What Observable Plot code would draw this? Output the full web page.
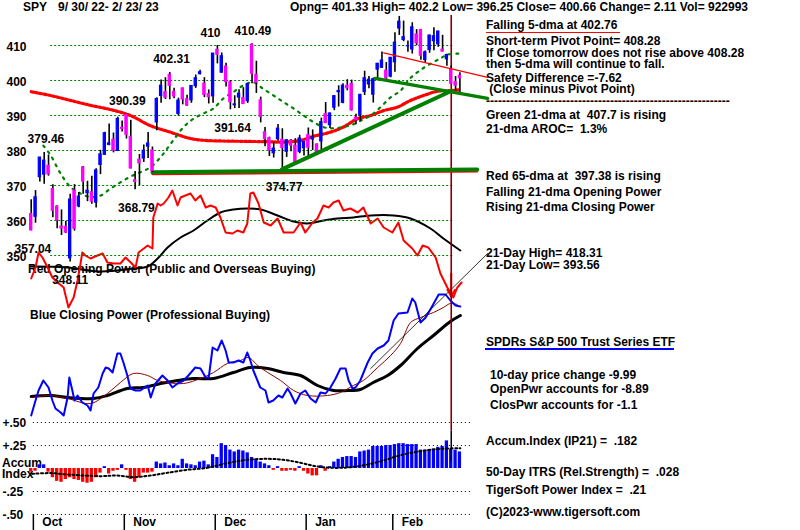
<!DOCTYPE html>
<html><head><meta charset="utf-8">
<script src="https://cdn.jsdelivr.net/npm/d3@7"></script>
<script src="https://cdn.jsdelivr.net/npm/@observablehq/plot@0.6"></script>
<style>
body{margin:0;background:#fff}
#chart{position:relative;width:800px;height:530px;background:#fff;overflow:hidden;font-family:"Liberation Sans",Arial,sans-serif;font-weight:bold;font-size:12px;color:#000}
#chart svg{position:absolute;left:0;top:0;background:transparent}
.t{position:absolute;white-space:pre;line-height:12px}
.u{position:absolute}
</style></head><body><div id="chart"></div><script>
// ---------- DATA ----------
const days = ["9/30","10/3","10/4","10/5","10/6","10/7","10/10","10/11","10/12","10/13","10/14","10/17","10/18","10/19","10/20","10/21","10/24","10/25","10/26","10/27","10/28","10/31","11/1","11/2","11/3","11/4","11/7","11/8","11/9","11/10","11/11","11/14","11/15","11/16","11/17","11/18","11/21","11/22","11/23","11/25","11/28","11/29","11/30","12/1","12/2","12/5","12/6","12/7","12/8","12/9","12/12","12/13","12/14","12/15","12/16","12/19","12/20","12/21","12/22","12/23","12/27","12/28","12/29","12/30","1/3","1/4","1/5","1/6","1/9","1/10","1/11","1/12","1/13","1/17","1/18","1/19","1/20","1/23","1/24","1/25","1/26","1/27","1/30","1/31","2/1","2/2","2/3","2/6","2/7","2/8","2/9","2/10","2/13","2/14","2/15","2/16","2/17","2/21","2/22","2/23"];
const open  = [361.80,361.08,372.40,373.12,375.62,368.97,363.96,358.24,358.17,349.21,368.55,364.01,375.13,367.82,368.03,365.12,375.89,378.79,381.62,383.07,379.87,386.44,390.14,383.90,371.47,377.37,377.71,381.11,380.00,388.05,395.59,396.66,401.65,396.78,390.46,397.74,394.64,394.35,398.39,401.83,399.09,396.05,395.49,408.77,402.25,403.95,399.42,392.94,395.14,394.94,394.11,410.22,401.61,394.30,385.18,383.47,379.23,383.25,383.05,379.65,382.79,381.33,379.63,380.64,384.37,383.18,381.72,382.61,390.37,387.25,392.23,396.67,393.62,398.48,399.01,389.36,390.10,396.72,398.88,395.95,403.13,403.66,402.80,401.13,405.21,414.86,411.59,409.79,408.87,413.13,414.41,405.86,408.72,411.24,410.35,408.79,406.06,403.06,399.52,401.33];
const high  = [365.91,368.55,378.00,379.46,378.72,370.22,364.21,363.03,359.82,367.51,370.26,367.98,375.45,371.21,372.67,374.80,380.06,385.25,387.58,385.00,389.52,388.40,390.39,388.63,374.02,378.87,381.57,385.12,381.00,395.04,400.13,400.80,402.31,397.78,394.95,397.81,395.82,398.57,401.56,402.91,400.81,397.30,407.68,410.00,407.86,404.93,399.99,395.64,397.36,397.94,398.99,410.49,405.50,395.25,386.58,383.82,382.23,387.41,386.21,383.06,383.15,383.39,384.35,382.58,386.43,385.88,381.84,389.25,393.70,390.65,395.60,398.49,399.10,400.23,400.12,390.36,396.04,402.65,401.15,400.70,404.92,408.16,405.13,406.53,413.67,418.31,416.97,411.29,416.49,414.53,414.57,408.44,412.97,415.05,414.06,412.91,407.51,404.16,401.13,402.20];
const low   = [357.04,359.21,371.00,370.36,372.68,360.76,357.67,355.71,356.30,348.11,356.96,363.61,367.52,365.38,364.61,363.54,373.11,378.67,381.35,379.33,379.68,385.26,383.29,374.76,368.79,370.00,376.59,377.72,373.72,385.64,393.48,394.57,394.49,394.79,389.85,393.04,392.66,393.48,397.75,401.54,395.11,393.30,393.48,404.75,402.14,398.17,391.64,391.97,392.01,393.26,393.46,399.07,396.31,387.89,381.04,378.28,377.85,382.66,374.77,378.03,379.65,376.42,379.08,378.43,377.83,380.00,378.76,379.41,387.67,386.27,391.38,392.42,393.34,397.06,391.28,387.39,388.38,395.72,397.64,393.56,400.03,403.44,400.28,400.77,402.35,412.88,411.09,408.10,407.57,409.93,405.81,405.01,407.78,408.51,409.47,408.14,404.05,398.82,397.02,396.25];
const close = [357.18,366.61,377.97,377.09,373.20,362.79,360.02,357.74,356.56,365.97,357.63,366.82,371.13,368.50,365.41,374.29,378.87,384.92,382.02,379.98,389.02,386.21,384.52,374.87,371.01,376.35,379.95,382.00,374.13,394.69,398.51,395.12,398.49,395.45,394.24,394.59,392.83,398.42,400.63,402.33,395.91,395.23,407.68,407.38,406.91,399.59,393.83,393.16,396.24,393.28,398.95,401.97,399.40,389.63,383.27,380.02,380.54,386.23,380.72,382.91,381.40,376.66,383.44,382.43,380.82,383.76,379.38,388.08,387.86,390.58,395.52,396.96,398.50,397.77,391.49,388.64,395.88,400.63,400.20,400.35,404.75,405.68,400.59,406.48,410.80,416.78,412.35,409.83,415.19,410.65,407.09,408.04,412.83,412.64,413.98,408.28,407.26,399.09,398.54,400.66];

// moving averages: [day index, value]
const ma65 = [[0,396.8],[4.5,395.7],[9.1,394.3],[13.7,392.9],[18.3,391.7],[22.9,390.0],[27.5,387.1],[32.2,385.2],[36.5,383.5],[40,382.9],[45,382.7],[50,382.6],[55,382.5],[58,382.4],[62,382.8],[65,384.0],[69,385.2],[72.1,386.7],[75.4,389.1],[78.4,390.0],[81.4,391.4],[84.6,392.4],[87.6,394.3],[90.6,395.7],[93.8,396.9],[96.8,397.1],[99,397.38]];
const ma21 = [[2.8,381.4],[4.5,378.6],[6.8,373.4],[9.1,369.5],[11.4,367.7],[13.7,366.7],[16,367.1],[18.3,369.1],[20.6,370.9],[23,372.6],[25.2,373.8],[27.5,375.2],[29.9,378.1],[32.2,381.9],[35.2,386.7],[37.5,389.1],[39.8,390.6],[42.1,392.0],[44.4,394.9],[46.7,396.7],[49,398.6],[51.3,399.5],[53.6,397.6],[56,395.7],[58.3,393.8],[60.6,392.0],[62.9,390.0],[65.2,388.1],[68,386.5],[71,386.5],[74,387.3],[76.5,388.8],[78.4,390.0],[80.7,392.4],[83,395.2],[85.3,397.1],[87.5,400.6],[89.8,402.9],[92.2,404.8],[94.5,406.3],[96.1,407.4],[99,407.7]];

// drawn trend lines: [day index, price]
const supportLine = [[28,373.8],[103,374.6]];
const supportRed  = [[28,373.2],[103,374.0]];
const risingTrend = [[57.9,374.6],[97,397.0]];
const fallingTrend = [[79.5,400.6],[105.4,394.9]];
const resistanceLine = [[81.4,407.9],[105.4,400.9]];
const markerDay = 97;

// labelled extremes
const highLabels = [{d:3,v:379.46,t:"379.46",s:0.4},{d:22,v:390.39,t:"390.39",s:0.2},{d:32,v:402.31,t:"402.31",s:0.4},{d:43,v:410.0,t:"410",s:-1.6},{d:51,v:410.49,t:"410.49",s:0.2}];
const lowLabels = [{d:0,v:357.04,t:"357.04",s:0.4},{d:9,v:348.11,t:"348.11",s:0},{d:24,v:368.79,t:"368.79",s:0.3},{d:46,v:391.64,t:"391.64",s:0.5},{d:58,v:374.77,t:"374.77",s:0.4}];

// power lines (arbitrary units): [day index, value]
const openingPower = [[0,152],[1,163],[1.7,178],[2.6,173],[3.8,163],[4.9,153],[6.1,148],[7.5,143],[8.6,123],[9.8,133],[10.7,150],[11.4,167],[11.8,178],[12.5,175],[13.7,172],[15.3,175],[16.5,177],[17.6,168],[19,167],[20.6,167],[21.8,173],[23,168],[24.1,163],[24.8,178],[26.9,185],[28,182],[28.2,213],[29.2,227],[29.9,225],[30.6,227],[31.7,233],[32.6,240],[33.8,225],[34.5,233],[35.6,235],[36.8,237],[37.9,230],[39.1,235],[40.3,223],[41.4,225],[42.6,223],[43.7,213],[44.9,198],[46.5,197],[47.6,200],[49,198],[49.9,207],[50.6,237],[51.3,238],[52.5,227],[53.7,208],[55.3,205],[56.9,212],[58.3,198],[60.6,198],[62.2,208],[63.3,198],[65,208],[66.1,212],[67.5,225],[68.7,223],[69.8,228],[71,230],[72.1,220],[73.7,222],[75.4,218],[76.7,223],[78.4,207],[80,212],[81.4,203],[83.4,198],[84.8,208],[86,190],[88,182],[89.2,175],[90.4,185],[91.7,183],[93.4,173],[94.5,157],[96.1,143],[97.5,133],[98.4,143],[99.4,148]];
const openingPowerMA = [[0,164],[8.4,163],[16,159],[23.6,162],[26.9,164],[29.2,172],[31.5,183],[34.5,193],[37.5,200],[40.7,210],[43.7,218],[46.7,221],[50,222],[53,221],[56.9,215],[60.6,209],[63.8,207],[67.5,210],[70.7,212],[74.4,213],[78.4,215],[83.7,215],[87.6,212],[92.2,202],[95.2,192],[99.1,180]];
const closingPower = [[0,15],[1,30],[1.7,40],[2.8,50],[4,43],[4.9,30],[5.6,22],[6.8,18],[7.5,15],[8.4,33],[8.8,53],[9.5,40],[10,30],[10.7,35],[11.8,28],[13,25],[13.7,20],[14.4,37],[15.5,43],[16.5,57],[17.2,63],[17.9,62],[18.8,58],[19.9,77],[20.6,77],[21.3,68],[22.2,55],[22.9,42],[24.1,40],[25.2,40],[26.9,45],[27.6,33],[28.7,47],[30.3,55],[31.5,50],[32.6,43],[33.8,47],[35.2,50],[36.3,55],[37.9,63],[39.1,62],[40.3,53],[41,53],[41.9,83],[43,80],[44,90],[44.9,80],[45.6,68],[46.7,68],[47.9,70],[49,68],[49.9,78],[50.6,70],[51.3,60],[52.9,43],[54.1,40],[54.8,28],[55.9,30],[57.1,35],[58,33],[59.2,42],[59.9,37],[61,27],[62.2,37],[63.3,40],[64.5,32],[65.7,28],[66.8,38],[68,37],[69.1,43],[70.3,52],[71.4,62],[72.6,62],[73.3,50],[74.2,42],[74.9,43],[76,50],[77.7,68],[78.8,77],[80,82],[81.4,85],[82.5,90],[83.7,110],[84.8,117],[86.9,118],[88,132],[88.7,128],[89.9,108],[91.1,113],[92.7,125],[94.1,136],[95.7,136],[96.8,130],[98,125],[99.1,124]];
const closingPowerMA = [[0,33],[4.5,35],[8.4,32],[13.7,27],[17.6,37],[20.6,48],[23.6,57],[26.9,55],[29.2,50],[31.5,48],[35.2,47],[39.1,52],[42.1,58],[45.3,67],[48.3,70],[50.2,73],[52.3,65],[54.6,58],[57.6,50],[60.6,40],[63.8,35],[68.4,35],[71.4,38],[74.4,45],[76.7,50],[80,63],[83,75],[85.3,87],[87.6,108],[89.9,113],[92.9,118],[95.2,123],[96.8,127],[98.4,126]];
const closingPowerLongMA = [[0,34],[4.5,35],[8.4,33],[14.4,32],[17.6,35],[22.2,42],[25.9,43],[29.9,47],[33.8,50],[37.5,52],[42.1,52],[46.7,58],[50.6,63],[54.6,62],[58.3,58],[62.2,55],[66.1,45],[69.8,40],[73,40],[76,41],[79,48],[82.3,55],[85.3,65],[89.2,82],[92.9,95],[96.8,109],[99.1,115]];
const pointerLine = [[78.4,62],[105.4,177]];
const powerArrow = [{d:97,from:157,to:134}];

// accumulation index (IP21) per day and its moving average
const accum = [-0.04,-0.03,0.04,0.04,-0.04,-0.10,-0.14,-0.15,-0.12,-0.10,-0.12,-0.13,-0.15,-0.16,-0.15,-0.10,-0.05,0.02,-0.06,-0.03,-0.02,0.04,-0.02,-0.12,-0.15,-0.10,-0.05,-0.05,-0.04,0.07,0.05,0.06,0.03,0.05,0.03,0.10,0.05,0.04,0.03,0.07,0.08,0.04,0.15,0.12,0.27,0.25,0.20,0.18,0.20,0.19,0.17,0.12,0.10,0.07,0.05,0.03,-0.02,0.02,-0.03,-0.03,-0.02,-0.03,0.02,-0.03,-0.06,-0.08,-0.08,0.03,-0.03,0.02,0.07,0.10,0.12,0.13,0.13,0.12,0.18,0.19,0.20,0.24,0.24,0.24,0.25,0.25,0.26,0.27,0.27,0.26,0.26,0.26,0.20,0.20,0.20,0.21,0.23,0.24,0.30,0.21,0.20,0.18];
const accumMA = [[0.2,-0.058],[4.5,-0.05],[8.3,-0.065],[16,-0.083],[19.8,-0.076],[23.6,-0.094],[27.6,-0.076],[31.4,-0.047],[36,-0.014],[40.6,0.007],[45.3,0.058],[49.9,0.094],[54.5,0.105],[58.3,0.094],[62.2,0.062],[66,0.022],[69.9,0.007],[73.7,0.014],[77.6,0.043],[81.4,0.087],[85,0.14],[89.9,0.188],[94.5,0.214],[99.1,0.22]];

const priceTicks = [410,400,390,380,370,360,350];
const accumTicks = [0.5,0.25,-0.25,-0.5];
const accumTickLabels = ["+.50","+.25","-.25","-.50"];
const months = ["Oct","Nov","Dec","Jan","Feb"];
const monthStart = [1,22,43,64,84];

// ---------- TEXT ----------
const header = [
  {x:23,y:11,t:"SPY"},
  {x:58,y:11,t:"9/ 30/ 22- 2/ 23/ 23"},
  {x:290,y:11,t:"Opng= 401.33 High= 402.2 Low= 396.25 Close= 400.66 Change= 2.11 Vol= 922993"}
];
const panel = [
  {x:486,y:29.3,t:"Falling 5-dma at 402.76"},
  {x:486,y:45,t:"Short-term Pivot Point= 408.28"},
  {x:486,y:56.7,t:"If Close tomorrow does not rise above 408.28"},
  {x:486,y:68.3,t:"then 5-dma will continue to fall."},
  {x:486,y:81.7,t:"Safety Difference =-7.62"},
  {x:486,y:93.3,t:" (Close minus Pivot Point)"},
  {x:486,y:105,t:"-------------------------------------------------------------"},
  {x:486,y:119,t:"Green 21-dma at  407.7 is rising"},
  {x:486,y:133,t:"21-dma AROC=  1.3%"},
  {x:486,y:180,t:"Red 65-dma at  397.38 is rising"},
  {x:486,y:196,t:"Falling 21-dma Opening Power"},
  {x:486,y:211,t:"Rising 21-dma Closing Power"},
  {x:486,y:257,t:"21-Day High= 418.31"},
  {x:486,y:269,t:"21-Day Low= 393.56"},
  {x:486,y:345.7,t:"SPDRs S&P 500 Trust Series ETF"},
  {x:490,y:379,t:"10-day price change -9.99"},
  {x:490,y:393.3,t:"OpenPwr accounts for -8.89"},
  {x:490,y:409.3,t:"ClosPwr accounts for -1.1"},
  {x:486,y:445,t:"Accum.Index (IP21) =  .182"},
  {x:486,y:475.7,t:"50-Day ITRS (Rel.Strength) =  .028"},
  {x:486,y:494,t:"TigerSoft Power Index =  .21"},
  {x:486,y:516,t:"(C)2023-www.tigersoft.com"},
  {x:28,y:273,t:"Red Opening Power (Public and Overseas Buying)"},
  {x:30,y:319,t:"Blue Closing Power (Professional Buying)"},
  {x:2,y:467,t:"Accum"},
  {x:2,y:478,t:"Index"}
];

// ---------- BUILD ----------
const chart = document.getElementById("chart");
for (const d of header.concat(panel)) {
  const s = document.createElement("span");
  s.className = "t"; s.textContent = d.t;
  s.style.left = d.x + "px"; s.style.top = (d.y - 10.2) + "px";
  chart.appendChild(s);
}
function underline(x1, x2, y, color, h) {
  const u = document.createElement("div");
  u.className = "u";
  Object.assign(u.style, {left: x1 + "px", top: y + "px", width: (x2 - x1) + "px", height: h + "px", background: color});
  chart.appendChild(u);
}
underline(486, 620, 31.5, "#ff0000", 1.5);
underline(485, 674, 347.5, "#0000ff", 2);

const font = {fontFamily: "Liberation Sans, Arial, sans-serif", fontWeight: "bold", fontSize: 12, fill: "black"};
const X = {type: "linear", domain: [0, 99], range: [30.7, 459.4], axis: null};
const base = {width: 800, height: 530, margin: 0, style: {background: "transparent", overflow: "visible"}, color: {type: "identity"}};
const P = () => ({x: d => d[0], y: d => d[1]});

const bars = days.map((day, i) => ({i, day, open: open[i], high: high[i], low: low[i], close: close[i]}));
const barColor = d => d.close > d.open ? "#0000ff" : "#ff00ff";

const pricePlot = Plot.plot({...base, x: X, y: {domain: [420, 340], range: [10, 290], axis: null}, marks: [
  Plot.ruleY(priceTicks, {x1: 4.5, x2: 97.5, stroke: "#008000", strokeWidth: 1, strokeDasharray: "2,2"}),
  Plot.text(priceTicks, {y: d => d, text: d => String(d), frameAnchor: "left", dx: 6, dy: 5.7, lineAnchor: "bottom", textAnchor: "start", ...font}),
  Plot.ruleX([markerDay], {x: d => d, y1: 418.6, y2: 300, stroke: "#800000", strokeWidth: 1.6}),
  // 65-dma drawn as a chain of small red marks
  Plot.line(ma65, {...P(), stroke: "#ff0000", strokeWidth: 3.2, strokeDasharray: "2.2,2.13", curve: "catmull-rom"}),
  Plot.line(ma21, {...P(), stroke: "#008000", strokeWidth: 2.2, strokeDasharray: "2,5.5", curve: "catmull-rom"}),
  Plot.line(supportRed, {...P(), stroke: "#ff0000", strokeWidth: 2}),
  Plot.line(supportLine, {...P(), stroke: "#008000", strokeWidth: 4}),
  Plot.ruleX(bars, {x: "i", y1: "low", y2: "high", stroke: "black", strokeWidth: 1.6}),
  Plot.rect(bars, {x1: d => d.i - 0.25, x2: d => d.i + 0.25, y1: "open", y2: "close", fill: barColor, stroke: barColor, strokeWidth: 1.2}),
  Plot.line(risingTrend, {...P(), stroke: "#008000", strokeWidth: 4}),
  Plot.line(fallingTrend, {...P(), stroke: "#008000", strokeWidth: 3.5}),
  Plot.line(resistanceLine, {...P(), stroke: "#ff0000", strokeWidth: 1.3}),
  Plot.text(highLabels, {x: d => d.d + d.s, y: "v", text: "t", dy: -9, lineAnchor: "bottom", ...font}),
  Plot.text(lowLabels, {x: d => d.d + d.s, y: "v", text: "t", dy: 22, lineAnchor: "bottom", ...font})
]});

const powerPlot = Plot.plot({...base, x: X, y: {domain: [0, 250], range: [430, 180], axis: null}, marks: [
  Plot.line(openingPowerMA, {...P(), stroke: "black", strokeWidth: 2, curve: "catmull-rom"}),
  Plot.line(openingPower, {...P(), stroke: "#ff0000", strokeWidth: 2}),
  Plot.line(closingPowerLongMA, {...P(), stroke: "black", strokeWidth: 3, curve: "catmull-rom"}),
  Plot.line(closingPowerMA, {...P(), stroke: "#8b0000", strokeWidth: 1, curve: "catmull-rom"}),
  Plot.line(closingPower, {...P(), stroke: "#0000ff", strokeWidth: 2}),
  Plot.line(pointerLine, {...P(), stroke: "black", strokeWidth: 0.8}),
  Plot.arrow(powerArrow, {x1: "d", x2: "d", y1: "from", y2: "to", stroke: "#ff0000", strokeWidth: 2, headLength: 9})
]});

const accumData = accum.map((v, i) => ({i, v}));
const accumPlot = Plot.plot({...base, x: X, y: {domain: [0.5, -0.5], range: [422, 514], axis: null}, marks: [
  Plot.ruleY(accumTicks, {x1: 0.5, x2: 102, stroke: "black", strokeWidth: 1, strokeDasharray: "1,3"}),
  Plot.text(accumTicks, {y: d => d, text: (d, i) => accumTickLabels[i], frameAnchor: "left", dx: 2, dy: 4.5, lineAnchor: "bottom", textAnchor: "start", ...font}),
  Plot.rect(accumData, {x1: d => d.i - 0.38, x2: d => d.i + 0.38, y1: 0, y2: "v", fill: d => d.v >= 0 ? "#0000ff" : "#ff0000"}),
  Plot.line(accumMA, {...P(), stroke: "black", strokeWidth: 2, strokeDasharray: "2,2.5", curve: "catmull-rom"}),
  Plot.ruleX([markerDay], {x: d => d, y1: 0.41, y2: 0.07, stroke: "black", strokeWidth: 1.5}),
  Plot.ruleX(monthStart, {x: d => d - 0.5, insetTop: 514, stroke: "black", strokeWidth: 1.5}),
  Plot.text(months, {x: (d, i) => monthStart[i] - 0.5, text: d => d, frameAnchor: "bottom", dx: 9, dy: -5, textAnchor: "start", lineAnchor: "bottom", ...font})
]});

chart.appendChild(accumPlot);
chart.appendChild(powerPlot);
chart.appendChild(pricePlot);
</script></body></html>
